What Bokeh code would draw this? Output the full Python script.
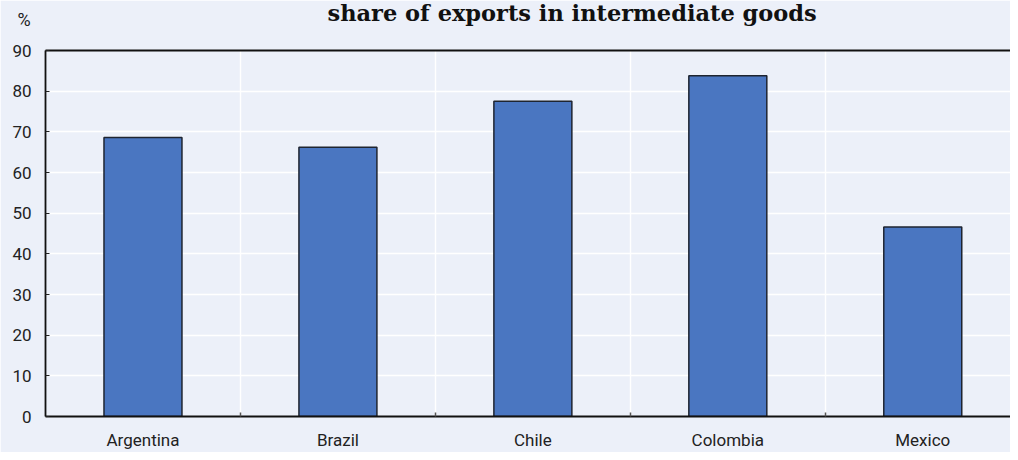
from bokeh.plotting import figure
from bokeh.models import FixedTicker, LinearAxis, Title
from bokeh.embed import file_html
from bokeh.resources import INLINE

countries = ["Argentina", "Brazil", "Chile", "Colombia", "Mexico"]
shares = [68.6, 66.2, 77.5, 83.8, 46.6]
y_ticks = [0, 10, 20, 30, 40, 50, 60, 70, 80, 90]
title_text = "share of exports in intermediate goods"
unit_text = "%"

BG = "#ecf0f9"
BAR = "#4a76c1"
TICK_FONT = "Roboto"

W, H = 1010, 452
LEFT, TOP, BOTTOM = 45, 50, 32

xs = [i + 0.5 for i in range(len(countries))]

p = figure(width=W, height=H, output_backend="svg", toolbar_location=None,
           x_range=(0, 4.95), y_range=(0, 90),
           min_border_left=LEFT, min_border_right=0, min_border_top=TOP,
           min_border_bottom=BOTTOM)
p.background_fill_color = BG
p.border_fill_color = BG
p.outline_line_color = None

p.vbar(x=xs, top=shares, width=0.4, bottom=0, fill_color=BAR,
       line_color="#1e2430", line_width=1.5)

# axes
p.xaxis.ticker = FixedTicker(ticks=xs, minor_ticks=[1, 2, 3, 4])
p.xaxis.major_label_overrides = {x: c for x, c in zip(xs, countries)}
p.xaxis.major_tick_line_color = None
p.xaxis.minor_tick_in = 4
p.xaxis.minor_tick_out = 0
p.xaxis.minor_tick_line_color = "#555555"
p.xaxis.minor_tick_line_width = 1.5
p.xaxis.axis_line_color = "#111111"
p.xaxis.axis_line_width = 1.8
p.xaxis.major_label_text_font = TICK_FONT
p.xaxis.major_label_text_font_size = "17px"
p.xaxis.major_label_text_color = "#222222"
p.xaxis.major_label_standoff = 7

p.yaxis.ticker = FixedTicker(ticks=y_ticks)
p.yaxis.major_tick_in = 4
p.yaxis.major_tick_out = 0
p.yaxis.major_tick_line_color = "#222222"
p.yaxis.major_tick_line_width = 1.2
p.yaxis.minor_tick_line_color = None
p.yaxis.axis_line_color = "#111111"
p.yaxis.axis_line_width = 1.8
p.yaxis.major_label_text_font = TICK_FONT
p.yaxis.major_label_text_font_size = "17px"
p.yaxis.major_label_text_color = "#222222"
p.yaxis.major_label_standoff = 14

top_axis = LinearAxis(ticker=FixedTicker(ticks=[]), axis_line_color="#111111",
                      axis_line_width=1.8, major_tick_line_color=None,
                      minor_tick_line_color=None, major_label_text_font_size="0px")
p.add_layout(top_axis, "above")

# grids
p.xgrid.ticker = FixedTicker(ticks=[1, 2, 3, 4])
p.xgrid.grid_line_color = "white"
p.xgrid.grid_line_width = 1.5
p.ygrid.ticker = FixedTicker(ticks=y_ticks[1:-1])
p.ygrid.grid_line_color = "white"
p.ygrid.grid_line_width = 1.5

# rows above the frame: spacer, unit, title (outermost)
p.add_layout(Title(text=" ", align="left", standoff=18,
                   text_font_size="1px", text_color=BG), "above")
p.add_layout(Title(text=unit_text, align="left", offset=-28, standoff=0,
                   text_font=TICK_FONT, text_font_style="normal",
                   text_font_size="18px", text_color="#222222"), "above")
p.add_layout(Title(text=title_text, align="left", offset=282, standoff=-38,
                   text_font="DejaVu Serif", text_font_style="bold",
                   text_font_size="22.5px", text_color="#111111"), "above")

open("out.html", "w").write(file_html(p, INLINE))
